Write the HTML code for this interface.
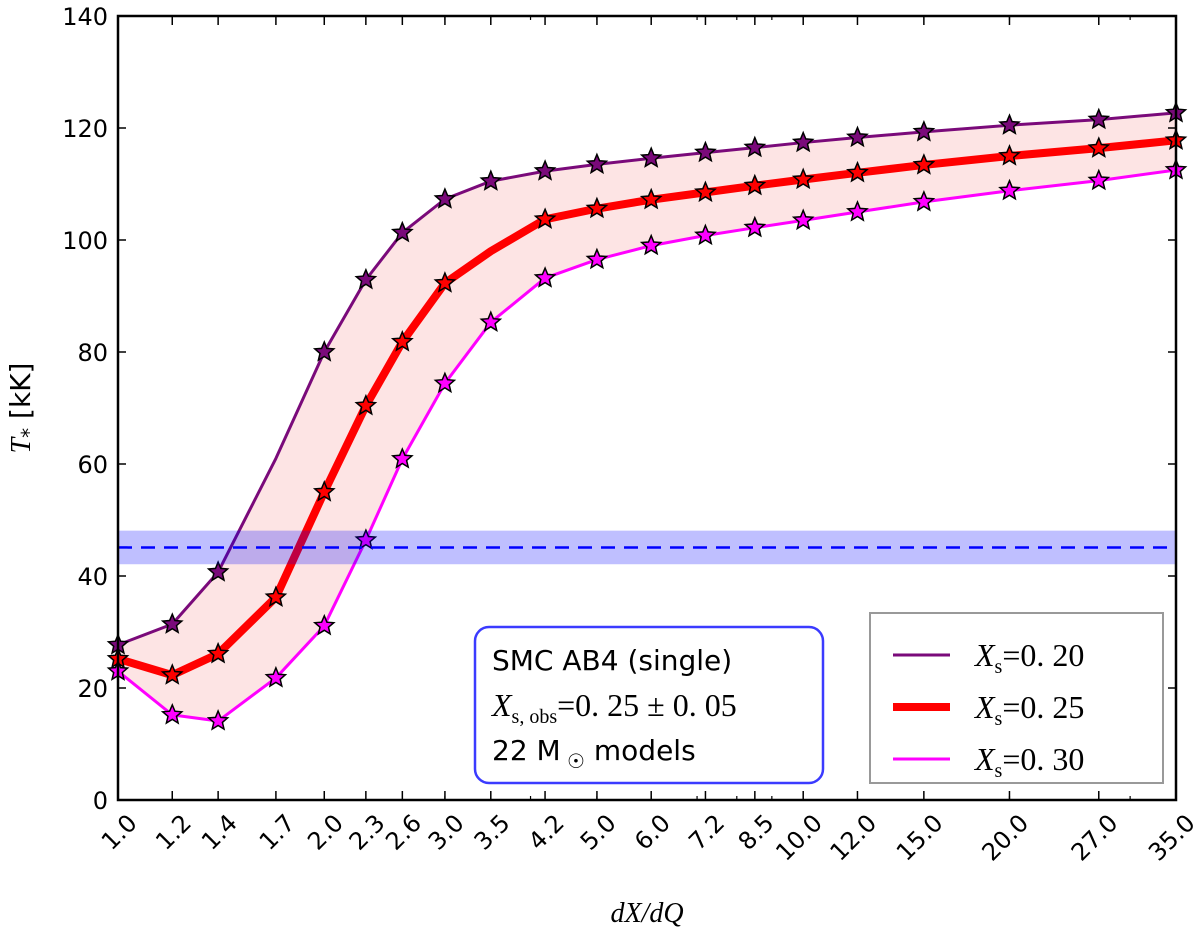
<!DOCTYPE html>
<html><head><meta charset="utf-8">
<style>
html,body{margin:0;padding:0;background:#fff;}
svg{display:block;}
text{font-family:"DejaVu Sans","Liberation Sans",sans-serif;}
.serif{font-family:"Liberation Serif","DejaVu Serif",serif;font-style:italic;}
</style></head>
<body>
<svg id="chart" width="1200" height="930" viewBox="0 0 1200 930">
  <g id="plot"></g>
</svg>
<script>
const categories = [1.0,1.2,1.4,1.7,2.0,2.3,2.6,3.0,3.5,4.2,5.0,6.0,7.2,8.5,10.0,12.0,15.0,20.0,27.0,35.0];
const tickLabels = ["1.0","1.2","1.4","1.7","2.0","2.3","2.6","3.0","3.5","4.2","5.0","6.0","7.2","8.5","10.0","12.0","15.0","20.0","27.0","35.0"];
const xs20 = [27.7,31.4,40.7,61,80,92.9,101.3,107.3,110.5,112.3,113.5,114.6,115.6,116.5,117.4,118.3,119.3,120.5,121.5,122.7];
const xs25 = [25.2,22.3,26.1,36.2,55,70.4,81.8,92.3,98,103.7,105.6,107.2,108.5,109.7,110.8,112,113.4,115,116.4,117.8];
const xs30 = [23,15.2,14.1,21.8,31.1,46.4,60.9,74.4,85.3,93.2,96.5,99,100.8,102.2,103.5,105,106.8,108.8,110.6,112.5];
const xs20Stars = [1,1,1,0,1,1,1,1,1,1,1,1,1,1,1,1,1,1,1,1];
const xs25Stars = [1,1,1,1,1,1,1,1,0,1,1,1,1,1,1,1,1,1,1,1];
const xs30Stars = [1,1,1,1,1,1,1,1,1,1,1,1,1,1,1,1,1,1,1,1];
const yTicks = [0,20,40,60,80,100,120,140];
const obsValue = 45.1, obsLow = 42.1, obsHigh = 48.1;

const NS="http://www.w3.org/2000/svg";
const L=118,R=1176,T=16,B=800, XMIN=1, XMAX=35, YMIN=0, YMAX=140;
function xp(v){return L+(R-L)*Math.log(v/XMIN)/Math.log(XMAX/XMIN);}
function yp(v){return B-(B-T)*(v-YMIN)/(YMAX-YMIN);}
function mk(tag,attrs,parent){const e=document.createElementNS(NS,tag);for(const k in attrs)e.setAttribute(k,attrs[k]);(parent||plot).appendChild(e);return e;}
const plot=document.getElementById('plot');

let d="M"+categories.map((c,i)=>xp(c)+","+yp(xs20[i])).join(" L");
for(let i=categories.length-1;i>=0;i--) d+=" L"+xp(categories[i])+","+yp(xs30[i]);
d+=" Z";
let band=mk('path',{d:d,fill:'#fde4e4',stroke:'none'});



function star(cx,cy,r,fill,name){
  let pts=[];
  for(let k=0;k<10;k++){const rr=k%2?r*0.45:r;const a=-Math.PI/2+k*Math.PI/5;pts.push((cx+rr*Math.cos(a)).toFixed(1)+","+(cy+rr*Math.sin(a)).toFixed(1));}
  const p=mk('polygon',{points:pts.join(" "),fill:fill,stroke:'#000','stroke-width':1.5,'stroke-linejoin':'miter'});
  
  
}
function series(vals,stars,color,w,name){
  const pl=mk('polyline',{points:categories.map((c,i)=>xp(c)+","+yp(vals[i])).join(" "),fill:'none',stroke:color,'stroke-width':w,'stroke-linejoin':'round'});
  
  
  categories.forEach((c,i)=>{if(stars[i])star(xp(c),yp(vals[i]),10,color,name+'-marker');});
}
series(xs20,xs20Stars,'#7a0a7a',3,'xs-020');
series(xs25,xs25Stars,'#ff0000',8,'xs-025');
series(xs30,xs30Stars,'#ff00ff',3,'xs-030');

let ob=mk('rect',{x:L,y:yp(obsHigh),width:R-L,height:yp(obsLow)-yp(obsHigh),fill:'rgba(0,0,255,0.25)'});


let ol=mk('line',{x1:L,x2:R,y1:yp(obsValue),y2:yp(obsValue),stroke:'#0000ff','stroke-width':2.5,'stroke-dasharray':'14,9'});



let fr=mk('rect',{x:L,y:T,width:R-L,height:B-T,fill:'none',stroke:'#000','stroke-width':2.5});



yTicks.forEach(v=>{
  mk('line',{x1:L,x2:L+8,y1:yp(v),y2:yp(v),stroke:'#000','stroke-width':1.5});
  mk('line',{x1:R-8,x2:R,y1:yp(v),y2:yp(v),stroke:'#000','stroke-width':1.5});
  const t=mk('text',{x:L-10,y:yp(v)+9,'text-anchor':'end','font-size':24});
  t.textContent=v;
  
  
});
[2,3,4,5,6,7,8,9,20,30].forEach(v=>{
  mk('line',{x1:xp(v),x2:xp(v),y1:B,y2:B-4,stroke:'#000','stroke-width':1.2});
  mk('line',{x1:xp(v),x2:xp(v),y1:T,y2:T+4,stroke:'#000','stroke-width':1.2});
});
categories.forEach((c,i)=>{
  const x=xp(c);
  mk('line',{x1:x,x2:x,y1:B,y2:B-9,stroke:'#000','stroke-width':1.5});
  mk('line',{x1:x,x2:x,y1:T,y2:T+9,stroke:'#000','stroke-width':1.5});
  const t=mk('text',{x:x+8,y:B+12,'text-anchor':'end','font-size':24,transform:`rotate(-45 ${x+8} ${B+12})`,'dominant-baseline':'hanging'});
  t.textContent=tickLabels[i];
  
  
});

let xt=mk('text',{x:647,y:922,'text-anchor':'middle','font-size':28,class:'serif'});
xt.textContent='dX/dQ';


let yt=mk('text',{x:30,y:408,'text-anchor':'middle','font-size':28,transform:'rotate(-90 30 408)'});
yt.innerHTML='<tspan class="serif">T</tspan><tspan font-size="20" dy="6">*</tspan><tspan dy="-6"> [kK]</tspan>';



let ab=mk('rect',{x:475,y:627,width:348,height:156,rx:14,fill:'#fff',stroke:'#3b3bff','stroke-width':2.5});


let a1=mk('text',{x:492,y:670,'font-size':28});a1.textContent='SMC AB4 (single)';

let a2=mk('text',{x:492,y:716,'font-size':32,class:'serif'});
a2.innerHTML='X<tspan font-size="20" dy="7" font-style="normal">s, obs</tspan><tspan dy="-7" font-style="normal">=0. 25 ± 0. 05</tspan>';

let a3=mk('text',{x:492,y:760,'font-size':28});
a3.innerHTML='22 M<tspan font-size="20" dy="8"> ☉</tspan><tspan dy="-8">  models</tspan>';


let lg=mk('rect',{x:870,y:613,width:293,height:170,fill:'#fff',stroke:'#999','stroke-width':2});


const legendLabels=['0.20','0.25','0.30'];
const legendColors=['#7a0a7a','#ff0000','#ff00ff'];
const legendWidths=[3,8,3];
legendLabels.forEach((lab,i)=>{
  const y=655+i*52;
  const g=mk('g',{});
  
  
  mk('line',{x1:893,x2:950,y1:y,y2:y,stroke:legendColors[i],'stroke-width':legendWidths[i]},g);
  const t=mk('text',{x:975,y:y+11,'font-size':32,class:'serif'},g);
  t.innerHTML='X<tspan font-size="20" dy="7" font-style="normal">s</tspan><tspan dy="-7" font-style="normal">=0. '+lab.slice(2)+'</tspan>';
});
</script>
</body></html>
